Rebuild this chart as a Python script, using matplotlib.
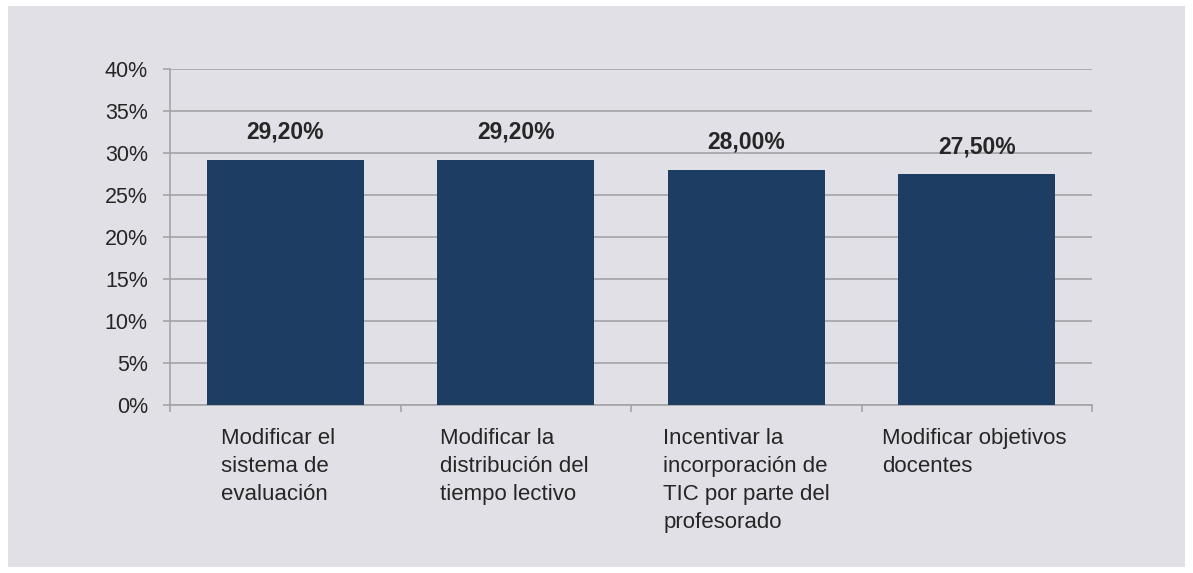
import matplotlib.pyplot as plt
from matplotlib.patches import Rectangle
from matplotlib.ticker import FuncFormatter, MultipleLocator

# data
categories = ["Modificar el\nsistema de\nevaluación",
              "Modificar la\ndistribución del\ntiempo lectivo",
              "Incentivar la\nincorporación de\nTIC por parte del\nprofesorado",
              "Modificar objetivos\ndocentes"]
values = [29.2, 29.2, 28.0, 27.5]
value_labels = ["29,20%", "29,20%", "28,00%", "27,50%"]

# where each label starts, left of the category centre (data units)
label_shift = [0.28, 0.33, 0.36, 0.41]

bar_color = "#1d3d63"
panel_color = "#e1e0e6"
grid_color = "#a3a3a8"
text_color = "#262626"

plt.rcParams['font.family'] = ['Liberation Sans', 'DejaVu Sans']

W, H = 1193, 573
fig = plt.figure(figsize=(W / 100, H / 100), dpi=100)
fig.patch.set_facecolor("white")
fig.add_artist(Rectangle((8 / W, 6 / H), (1185 - 8) / W, (567 - 6) / H,
                         transform=fig.transFigure, facecolor=panel_color,
                         edgecolor="none", zorder=0))

ax = fig.add_axes([170 / W, 168 / H, (1092 - 170) / W, (504 - 168) / H])
ax.set_facecolor("none")

x = range(len(values))
ax.bar(x, values, width=0.68, color=bar_color, zorder=3)

for i, (v, lab) in enumerate(zip(values, value_labels)):
    ax.text(i, v + 2.5, lab, ha="center", va="baseline", fontsize=16.5,
            fontweight="bold", color=text_color)

ax.set_xlim(-0.5, len(values) - 0.5)
ax.set_ylim(0, 40)
ax.yaxis.set_major_locator(MultipleLocator(5))
ax.yaxis.set_major_formatter(FuncFormatter(lambda v, p: f"{v:.0f}%"))
ax.grid(axis="y", color=grid_color, linewidth=1.2, zorder=1)

ax.set_xticks([i - 0.5 for i in range(len(values) + 1)])
ax.set_xticklabels([])
ax.tick_params(axis="x", length=5, width=1.2, color=grid_color)
ax.tick_params(axis="y", length=5, width=1.2, color=grid_color, pad=11,
               labelsize=15.5, labelcolor=text_color)

for side in ["top", "right"]:
    ax.spines[side].set_visible(False)
for side in ["left", "bottom"]:
    ax.spines[side].set_color(grid_color)
    ax.spines[side].set_linewidth(1.2)

for i, cat in enumerate(categories):
    ax.text(i - label_shift[i], -2.7, cat, ha="left", va="top", fontsize=16,
            color=text_color, linespacing=1.45)

fig.savefig("out.png", dpi=100)
